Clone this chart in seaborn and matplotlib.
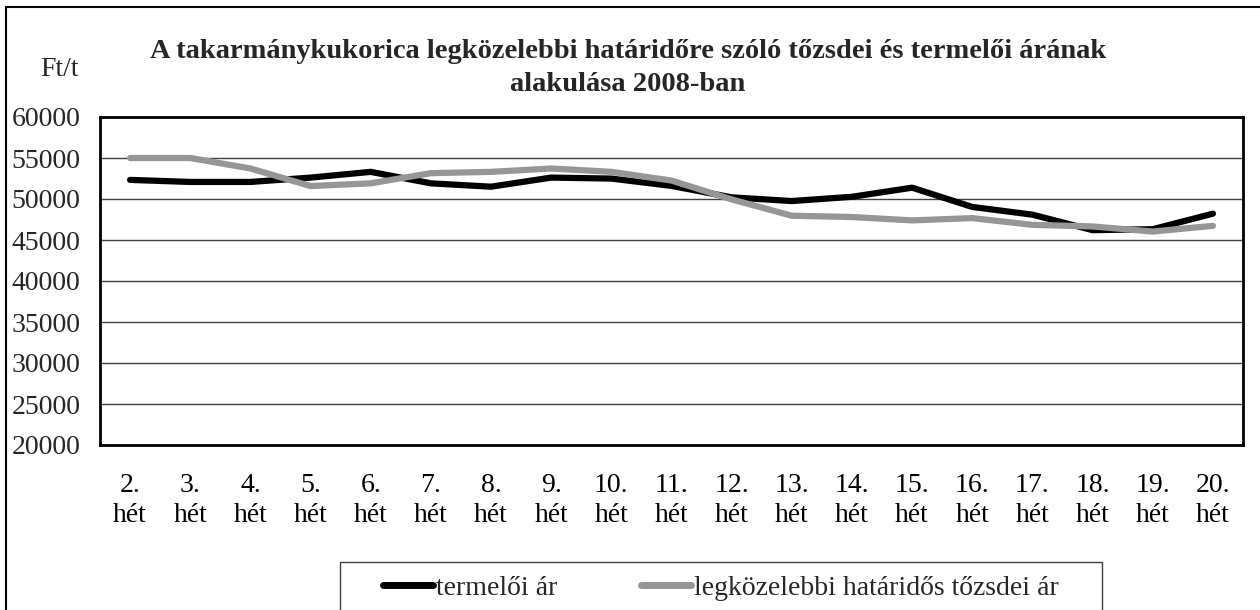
import pandas as pd
import seaborn as sb
from matplotlib import pyplot as plt
from matplotlib.lines import Line2D
from matplotlib.patches import Rectangle

# heti árak, Ft/t
weeks = [f"{i}.\nhét" for i in range(2, 21)]
termeloi = [52330, 52080, 52080, 52610, 53310, 51910, 51500, 52610, 52490, 51600,
            50200, 49750, 50270, 51380, 49030, 48090, 46200, 46320, 48210]
tozsdei = [55000, 55000, 53720, 51580, 51910, 53150, 53310, 53720, 53310, 52250,
           49950, 47960, 47800, 47390, 47670, 46850, 46650, 46030, 46730]
series = ["termelői ár", "legközelebbi határidős tőzsdei ár"]
colors = ["#000000", "#969696"]
yticks = [20000, 25000, 30000, 35000, 40000, 45000, 50000, 55000, 60000]

df = pd.concat(
    [
        pd.DataFrame({"idx": range(len(weeks)), "ar": termeloi, "sor": series[0]}),
        pd.DataFrame({"idx": range(len(weeks)), "ar": tozsdei, "sor": series[1]}),
    ],
    ignore_index=True,
)

sb.set_theme(style="white")
plt.rcParams["font.family"] = ["Liberation Serif", "DejaVu Serif"]
FS = 20

fig = plt.figure(figsize=(12.6, 6.1), dpi=100)
W, H = 1260, 610
ax = fig.add_axes([100 / W, 1 - 445 / H, 1143 / W, 328 / H])

sb.lineplot(
    data=df,
    x="idx",
    y="ar",
    hue="sor",
    palette=colors,
    linewidth=4.5,
    solid_capstyle="round",
    legend=False,
    ax=ax,
)

ax.set_xlim(-0.5, len(weeks) - 0.5)
ax.set_ylim(20000, 60000)
ax.set_yticks(yticks)
ax.set_yticklabels([str(v) for v in yticks], fontsize=FS)
ax.set_xticks(range(len(weeks)))
ax.set_xticklabels(weeks, fontsize=FS, linespacing=1.3)
ax.set_xticks([i - 0.5 for i in range(len(weeks) + 1)], minor=True)
ax.tick_params(axis="x", which="major", length=0, pad=20, colors="black")
ax.tick_params(axis="x", which="minor", length=7, width=1, color="#404040", direction="out")
ax.tick_params(axis="y", length=8, width=1, color="#404040", direction="out", pad=6)
ax.set_xlabel("")
ax.set_ylabel("")

ax.grid(axis="y", color="#404040", linewidth=1)
ax.set_axisbelow(True)
for s in ax.spines.values():
    s.set_color("black")
    s.set_linewidth(2)
    s.set_visible(True)

fig.text(628 / W, 1 - 68 / H,
         "A takarmánykukorica legközelebbi határidőre szóló tőzsdei és termelői árának\nalakulása 2008-ban",
         ha="center", va="center", fontsize=20.5, fontweight="bold", linespacing=1.4)
fig.text(40 / W, 1 - 69 / H, "Ft/t", ha="left", va="center", fontsize=FS)

# külső keret
fig.add_artist(Rectangle((6 / W, -0.2), 1.5, 1.2 - 7 / H, transform=fig.transFigure,
                         fill=False, edgecolor="black", linewidth=1.5))
# jelmagyarázat kerete
fig.add_artist(Rectangle((340 / W, -0.2), 762 / W, 0.2 + 1 - 562 / H, transform=fig.transFigure,
                         fill=False, edgecolor="#404040", linewidth=1))

handles = [Line2D([], [], color=c, linewidth=5, solid_capstyle="round") for c in colors]
fig.legend(handles, series, loc="center", bbox_to_anchor=(721 / W, 1 - 588 / H),
           ncol=2, frameon=False, fontsize=FS, handlelength=1.8, handletextpad=0.1,
           columnspacing=3.0, borderaxespad=0)

fig.savefig("out.png", dpi=100)
